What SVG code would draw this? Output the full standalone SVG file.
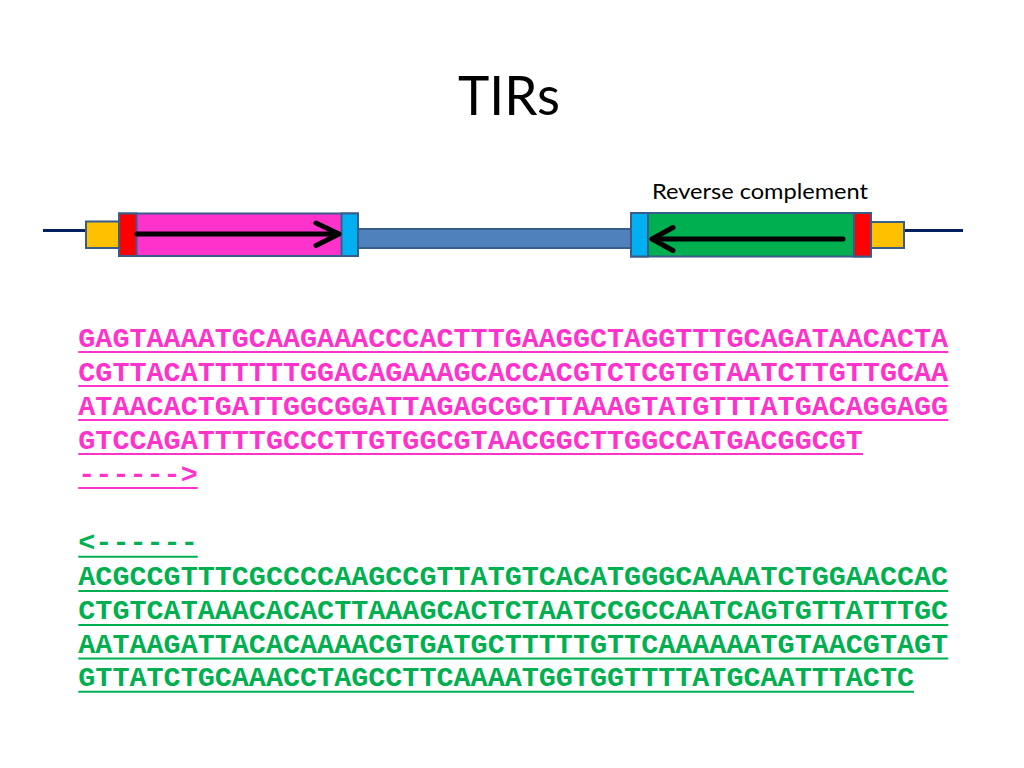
<svg xmlns="http://www.w3.org/2000/svg" width="1024" height="768" viewBox="0 0 1024 768">
  <style>
    .box { stroke: #385D8A; stroke-width: 2; }
    .seq { font-family: "Liberation Mono", "Courier New", monospace; font-weight: bold; font-size: 28.43px; }
    .pink { fill: #FF33CC; }
    .green { fill: #00B050; }
    .ulp { stroke: #FF33CC; stroke-width: 2; }
    .ulg { stroke: #00B050; stroke-width: 2; }
    .arrow { stroke: #000000; stroke-width: 5; fill: none; stroke-linecap: round; stroke-linejoin: round; }
    .label { font-family: Lato, "Liberation Sans", sans-serif; fill: #000000; }
  </style>
  <rect width="1024" height="768" fill="#FFFFFF"/>

  <g id="title">
    <text class="label" x="458" y="115" font-size="55" textLength="102" lengthAdjust="spacingAndGlyphs">TIRs</text>
  </g>

  <g id="rc-label">
    <text class="label" x="652" y="199" font-size="21" textLength="216" lengthAdjust="spacingAndGlyphs">Reverse complement</text>
  </g>

  <g id="connectors">
    <line x1="43" y1="230.5" x2="86" y2="230.5" stroke="#002060" stroke-width="3"/>
    <line x1="904" y1="230.5" x2="963" y2="230.5" stroke="#002060" stroke-width="3"/>
  </g>

  <g id="middle-bar">
    <rect class="box" x="358" y="229" width="273" height="19" fill="#4F81BD"/>
  </g>

  <g id="left-flank">
    <rect class="box" x="86" y="221.5" width="33" height="26.5" fill="#FFC000"/>
  </g>

  <g id="left-tir">
    <rect class="box" x="119" y="213.5" width="239" height="42.5" fill="#FF33CC"/>
    <rect class="box" x="119" y="213.5" width="17.5" height="42.5" fill="#FF0000"/>
    <rect class="box" x="341.5" y="213.5" width="16.5" height="42.5" fill="#00B0F0"/>
    <line class="arrow" x1="137" y1="234" x2="338" y2="234"/>
    <polyline class="arrow" points="316,223 339,234 316,245.5"/>
  </g>

  <g id="right-tir">
    <rect class="box" x="631" y="213" width="240" height="43.5" fill="#00B050"/>
    <rect class="box" x="631" y="213" width="17" height="43.5" fill="#00B0F0"/>
    <rect class="box" x="854" y="213" width="17" height="43.5" fill="#FF0000"/>
    <line class="arrow" x1="843" y1="239" x2="653" y2="239"/>
    <polyline class="arrow" points="673,227.5 652,239 673,250.5"/>
  </g>

  <g id="right-flank">
    <rect class="box" x="871" y="222" width="33" height="26" fill="#FFC000"/>
  </g>

  <g id="forward-sequence">
    <text class="seq pink" x="78.3" y="346.5">GAGTAAAATGCAAGAAACCCACTTTGAAGGCTAGGTTTGCAGATAACACTA</text>
    <text class="seq pink" x="78.3" y="380.5">CGTTACATTTTTTGGACAGAAAGCACCACGTCTCGTGTAATCTTGTTGCAA</text>
    <text class="seq pink" x="78.3" y="414.5">ATAACACTGATTGGCGGATTAGAGCGCTTAAAGTATGTTTATGACAGGAGG</text>
    <text class="seq pink" x="78.3" y="448.5">GTCCAGATTTTGCCCTTGTGGCGTAACGGCTTGGCCATGACGGCGT</text>
    <text class="seq pink" x="78.3" y="482.5">------&gt;</text>
    <line class="ulp" x1="78.3" y1="352" x2="948.3" y2="352"/>
    <line class="ulp" x1="78.3" y1="386" x2="948.3" y2="386"/>
    <line class="ulp" x1="78.3" y1="420" x2="948.3" y2="420"/>
    <line class="ulp" x1="78.3" y1="454" x2="863" y2="454"/>
    <line class="ulp" x1="78.3" y1="488" x2="197.7" y2="488"/>
  </g>

  <g id="reverse-sequence">
    <text class="seq green" x="78.3" y="551">&lt;------</text>
    <text class="seq green" x="78.3" y="585">ACGCCGTTTCGCCCCAAGCCGTTATGTCACATGGGCAAAATCTGGAACCAC</text>
    <text class="seq green" x="78.3" y="619">CTGTCATAAACACACTTAAAGCACTCTAATCCGCCAATCAGTGTTATTTGC</text>
    <text class="seq green" x="78.3" y="652.5">AATAAGATTACACAAAACGTGATGCTTTTTGTTCAAAAAATGTAACGTAGT</text>
    <text class="seq green" x="78.3" y="686">GTTATCTGCAAACCTAGCCTTCAAAATGGTGGTTTTATGCAATTTACTC</text>
    <line class="ulg" x1="78.3" y1="556.7" x2="197.7" y2="556.7"/>
    <line class="ulg" x1="78.3" y1="591" x2="948.3" y2="591"/>
    <line class="ulg" x1="78.3" y1="625" x2="948.3" y2="625"/>
    <line class="ulg" x1="78.3" y1="658.5" x2="948.3" y2="658.5"/>
    <line class="ulg" x1="78.3" y1="691.7" x2="914" y2="691.7"/>
  </g>
</svg>
